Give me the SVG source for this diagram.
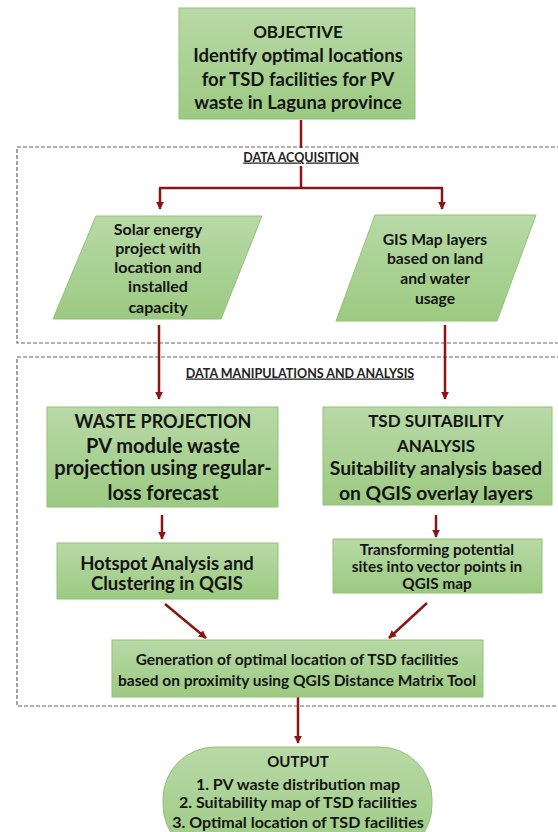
<svg xmlns="http://www.w3.org/2000/svg" width="558" height="832" viewBox="0 0 558 832">
<style>
.box{fill:url(#g);stroke:#93c27a;stroke-width:1}
.dash{fill:none;stroke:#666;stroke-width:1.2;stroke-dasharray:4 2}
.t{font-family:Lato,"Open Sans",sans-serif;font-weight:bold;fill:#141414;text-anchor:middle}
.lbl{font-family:Lato,"Open Sans",sans-serif;font-weight:bold;fill:#222;text-anchor:middle;font-size:12.5px;text-decoration:underline}
.c{fill:none;stroke:#8b1414;stroke-width:2.5}
</style>
<defs>
<linearGradient id="g" x1="0" y1="0" x2="0" y2="1">
<stop offset="0" stop-color="#b8d9a6"/>
<stop offset="1" stop-color="#9cca82"/>
</linearGradient>
<marker id="ah" viewBox="0 0 10 10" refX="9" refY="5" markerWidth="3.2" markerHeight="3.2" orient="auto" markerUnits="strokeWidth">
<path d="M0,0 L10,5 L0,10 z" fill="#8b1414"/>
</marker>
</defs>
<rect width="558" height="832" fill="#fff"/>
<g id="sections">
<rect class="dash" x="17" y="147" width="560" height="196"/>
<rect class="dash" x="17" y="357" width="560" height="349"/>
<text class="lbl" x="301" y="161.5">DATA ACQUISITION</text>
<text class="lbl" x="300" y="377.5">DATA MANIPULATIONS AND ANALYSIS</text>
</g>
<g id="connectors">
<line class="c" x1="301" y1="120" x2="301" y2="148"/>
<path class="c" d="M301,166 V188 M159,188 H443"/>
<line class="c" x1="160" y1="188" x2="160" y2="209" marker-end="url(#ah)"/>
<line class="c" x1="442" y1="188" x2="442" y2="209" marker-end="url(#ah)"/>
<line class="c" x1="159" y1="325" x2="159" y2="399" marker-end="url(#ah)"/>
<line class="c" x1="445" y1="325" x2="445" y2="399" marker-end="url(#ah)"/>
<line class="c" x1="162" y1="515" x2="162" y2="539" marker-end="url(#ah)"/>
<line class="c" x1="436" y1="515" x2="436" y2="537" marker-end="url(#ah)"/>
<line class="c" x1="165" y1="604" x2="206" y2="638" marker-end="url(#ah)"/>
<line class="c" x1="427" y1="603" x2="389" y2="638" marker-end="url(#ah)"/>
<line class="c" x1="298" y1="697" x2="298" y2="743" marker-end="url(#ah)"/>
</g>
<g id="objective">
<rect class="box" x="179" y="8" width="236" height="111"/>
<text class="t" font-size="17" x="298" y="38">OBJECTIVE</text>
<text class="t" font-size="18.5" x="298" y="61.5">Identify optimal locations</text>
<text class="t" font-size="18.5" x="298" y="85.5">for TSD facilities for PV</text>
<text class="t" font-size="18.5" x="298" y="108.5">waste in Laguna province</text>
</g>
<g id="solar">
<polygon class="box" points="96,216 262,216 221,319 53,319"/>
<text class="t" font-size="16" x="158" y="235">Solar energy</text>
<text class="t" font-size="16" x="158" y="254">project with</text>
<text class="t" font-size="16" x="158" y="273">location and</text>
<text class="t" font-size="16" x="158" y="292">installed</text>
<text class="t" font-size="16" x="158" y="313">capacity</text>
</g>
<g id="gis">
<polygon class="box" points="375,215 536,215 497,321 336,321"/>
<text class="t" font-size="15.7" x="435" y="245">GIS Map layers</text>
<text class="t" font-size="15.7" x="435" y="264">based on land</text>
<text class="t" font-size="15.7" x="435" y="284">and water</text>
<text class="t" font-size="15.7" x="435" y="304">usage</text>
</g>
<g id="waste">
<rect class="box" x="47" y="407" width="231" height="100"/>
<text class="t" font-size="18" x="163" y="427.5">WASTE PROJECTION</text>
<text class="t" font-size="20" x="163" y="453">PV module waste</text>
<text class="t" font-size="20" x="163" y="475">projection using regular-</text>
<text class="t" font-size="20" x="163" y="500">loss forecast</text>
</g>
<g id="tsd">
<rect class="box" x="323" y="407" width="229" height="98"/>
<text class="t" font-size="17" x="436" y="427">TSD SUITABILITY</text>
<text class="t" font-size="17" x="436" y="452">ANALYSIS</text>
<text class="t" font-size="19.3" x="436" y="475">Suitability analysis based</text>
<text class="t" font-size="19.3" x="436" y="500">on QGIS overlay layers</text>
</g>
<g id="hotspot">
<rect class="box" x="57" y="543" width="221" height="56"/>
<text class="t" font-size="18.5" x="167" y="569.5">Hotspot Analysis and</text>
<text class="t" font-size="18.5" x="167" y="589.5">Clustering in QGIS</text>
</g>
<g id="transform">
<rect class="box" x="333" y="539" width="209" height="54"/>
<text class="t" font-size="15.3" x="437" y="554.5">Transforming potential</text>
<text class="t" font-size="15.3" x="437" y="571.5">sites into vector points in</text>
<text class="t" font-size="15.3" x="437" y="589">QGIS map</text>
</g>
<g id="generation">
<rect class="box" x="112" y="640" width="371" height="57"/>
<text class="t" font-size="15.5" x="297" y="664.5">Generation of optimal location of TSD facilities</text>
<text class="t" font-size="15.5" x="297" y="685.5">based on proximity using QGIS Distance Matrix Tool</text>
</g>
<g id="output">
<rect class="box" x="163" y="747" width="269" height="110" rx="52" ry="52"/>
<text class="t" font-size="15" font-weight="normal" x="298" y="767">OUTPUT</text>
<text class="t" font-size="16" x="298" y="790">1. PV waste distribution map</text>
<text class="t" font-size="16" x="298" y="808">2. Suitability map of TSD facilities</text>
<text class="t" font-size="16" x="298" y="828">3. Optimal location of TSD facilities</text>
</g>
</svg>
